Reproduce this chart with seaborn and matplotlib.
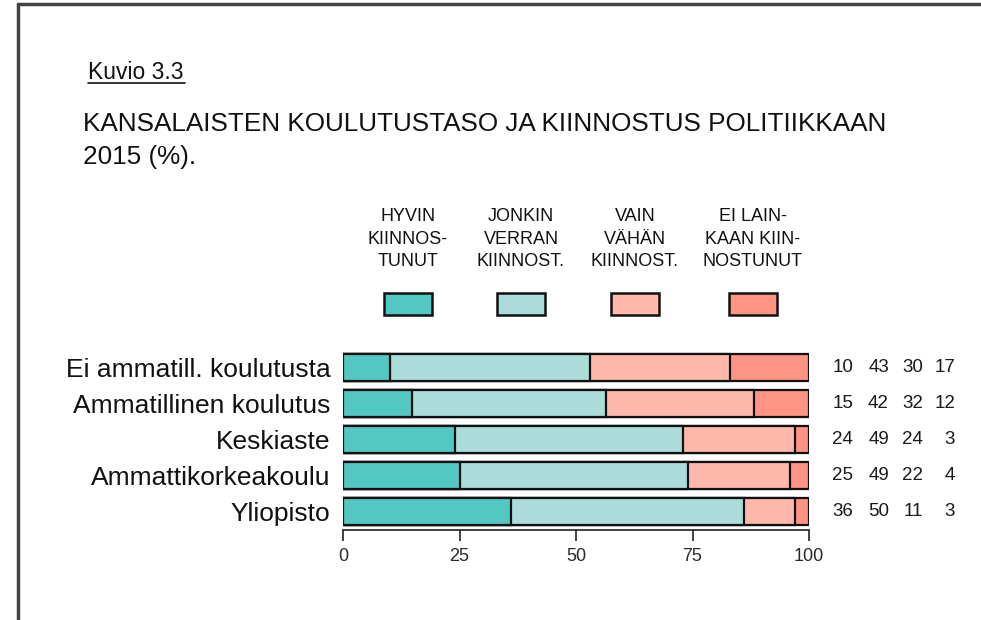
import numpy as np
import pandas as pd
import matplotlib
matplotlib.use("Agg")
import matplotlib.pyplot as plt
import seaborn as sns
from matplotlib.transforms import blended_transform_factory
from matplotlib.patches import Rectangle
from matplotlib.lines import Line2D

# ---- data ----
categories = ["Ei ammatill. koulutusta", "Ammatillinen koulutus", "Keskiaste",
              "Ammattikorkeakoulu", "Yliopisto"]
hyvin = [10, 15, 24, 25, 36]
jonkin = [43, 42, 49, 49, 50]
vain = [30, 32, 24, 22, 11]
ei_lainkaan = [17, 12, 3, 4, 3]
series_labels = ["HYVIN\nKIINNOS-\nTUNUT", "JONKIN\nVERRAN\nKIINNOST.",
                 "VAIN\nVÄHÄN\nKIINNOST.", "EI LAIN-\nKAAN KIIN-\nNOSTUNUT"]
x_ticks = [0, 25, 50, 75, 100]

colors = ["#53C8C3", "#ABDCDA", "#FFB9AC", "#FF9484"]

sns.set_theme(style="white")
plt.rcParams["font.family"] = ["Liberation Sans", "DejaVu Sans"]

W, H = 981, 620
fig = plt.figure(figsize=(W / 100, H / 100), dpi=100)

def fx(px):
    return px / W

def fy(py):
    return 1 - py / H

ax = fig.add_axes([fx(343), fy(530), fx(809) - fx(343), (530 - 349) / H])

vals = np.array([hyvin, jonkin, vain, ei_lainkaan], dtype=float).T
shares = vals / vals.sum(axis=1, keepdims=True) * 100
cum = np.cumsum(shares, axis=1)

for i in reversed(range(4)):
    df = pd.DataFrame({"cat": categories, "val": cum[:, i]})
    sns.barplot(data=df, x="val", y="cat", orient="h", color=colors[i],
                saturation=1, width=0.75, edgecolor="#111111", linewidth=1.6,
                ax=ax)

ax.set_xlim(0, 100)
ax.set_ylim(4.5, -0.5)
ax.set_xlabel("")
ax.set_ylabel("")
ax.set_xticks(x_ticks)
ax.set_xticklabels([str(t) for t in x_ticks], fontsize=13, color="#2a2a2a")
for s in ["top", "right", "left"]:
    ax.spines[s].set_visible(False)
ax.spines["bottom"].set_color("#222222")
ax.spines["bottom"].set_linewidth(1.2)
ax.tick_params(axis="x", direction="out", length=8, width=1.2, color="#222222",
               pad=5, bottom=True)
ax.tick_params(axis="y", length=0, pad=9, labelsize=19, labelcolor="#111111")

# numbers column
tr = blended_transform_factory(fig.transFigure, ax.transData)
col_right = [853, 889, 923, 955]
for r in range(len(categories)):
    for c in range(4):
        ax.text(fx(col_right[c]), r, str(int(vals[r, c])), transform=tr,
                ha="right", va="center", fontsize=13.5, color="#1a1a1a")

# legend
centers = [408, 521, 635, 753]
for c, lab in enumerate(series_labels):
    fig.add_artist(Rectangle((fx(centers[c] - 24), fy(315)), 48 / W, 22 / H,
                             transform=fig.transFigure, facecolor=colors[c],
                             edgecolor="#111111", linewidth=1.8))
    fig.text(fx(centers[c]), fy(239), lab, ha="center", va="center",
             fontsize=13, linespacing=1.45, color="#111111")

# titles
fig.text(fx(88), fy(79), "Kuvio 3.3", ha="left", va="baseline", fontsize=16.5,
         color="#111111")
fig.add_artist(Line2D([fx(88), fx(185)], [fy(83), fy(83)],
                      transform=fig.transFigure, color="#111111", linewidth=1.2))
fig.text(fx(83), fy(131), "KANSALAISTEN KOULUTUSTASO JA KIINNOSTUS POLITIIKKAAN",
         ha="left", va="baseline", fontsize=18.8, color="#111111")
fig.text(fx(83), fy(164), "2015 (%).", ha="left", va="baseline", fontsize=18.8,
         color="#111111")

# frame lines
fig.add_artist(Line2D([fx(18), fx(981)], [fy(4), fy(4)], transform=fig.transFigure,
                      color="#444444", linewidth=2.5))
fig.add_artist(Line2D([fx(18), fx(18)], [fy(4), fy(620)], transform=fig.transFigure,
                      color="#444444", linewidth=2.5))

fig.savefig("out.png", dpi=100)
